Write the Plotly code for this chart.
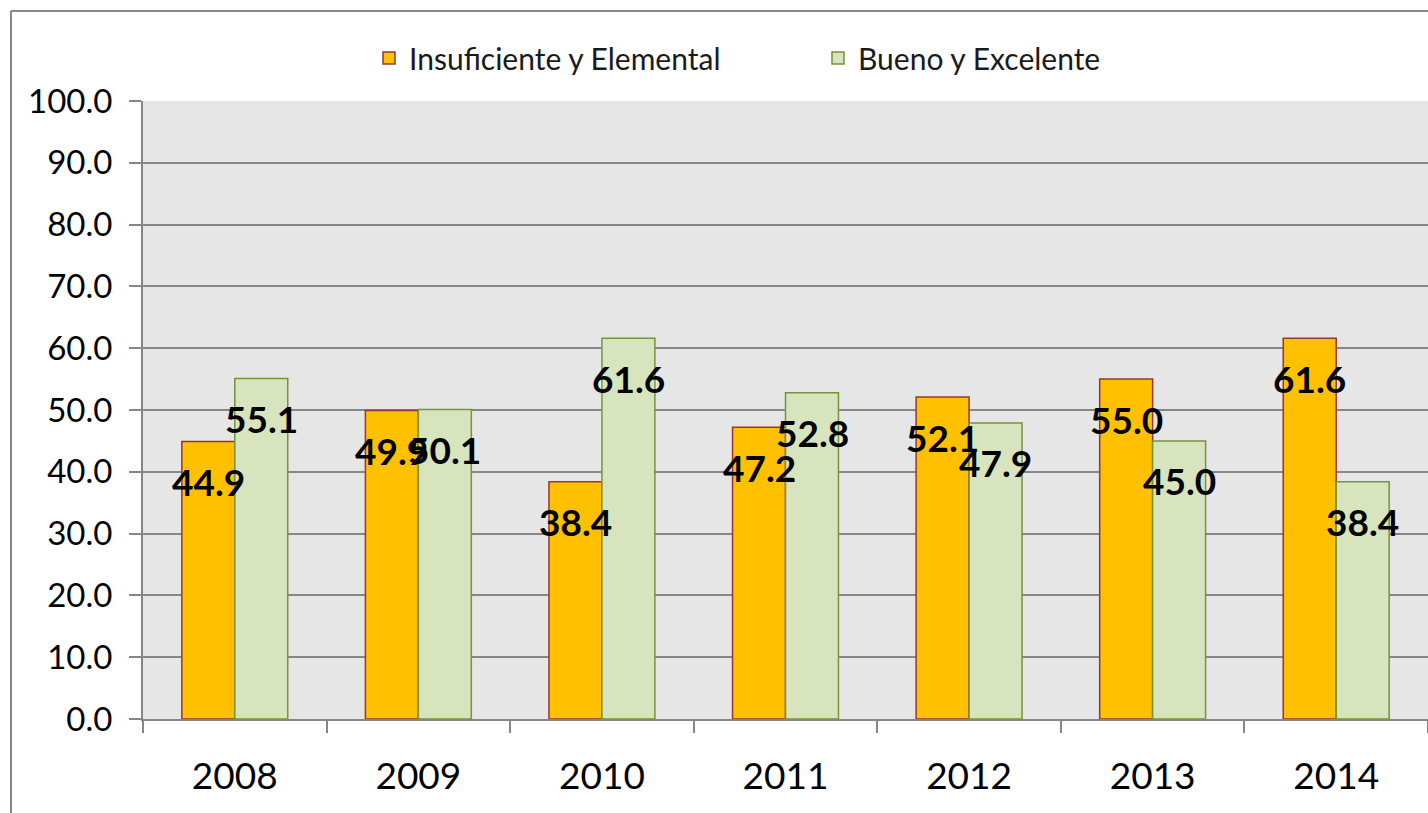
import plotly.graph_objects as go

years = ["2008", "2009", "2010", "2011", "2012", "2013", "2014"]
insuf = [44.9, 49.9, 38.4, 47.2, 52.1, 55.0, 61.6]
bueno = [55.1, 50.1, 61.6, 52.8, 47.9, 45.0, 38.4]
names = ["Insuficiente y Elemental", "Bueno y Excelente"]

W, H = 1428, 813
L, R, T, B = 143, 0, 101, 94
GRID = "#868686"
FONT = "Lato"

fig = go.Figure()
fig.add_trace(go.Bar(x=years, y=insuf, name=names[0],
                     marker=dict(color="#FFC000", line=dict(color="#953735", width=1.5))))
fig.add_trace(go.Bar(x=years, y=bueno, name=names[1],
                     marker=dict(color="#D7E4BD", line=dict(color="#77933C", width=1.5))))

ann = []
for vals, xs in ((insuf, -26.5), (bueno, 26.5)):
    for i, v in enumerate(vals):
        ann.append(dict(x=i, y=v, xref="x", yref="y", text=f"{v:.1f}", showarrow=False,
                        xshift=xs, yshift=-40, xanchor="center", yanchor="middle",
                        font=dict(family=FONT, size=37, color="black", weight="bold")))

pw = W - L - R
ph = H - T - B
def px(xp):
    return (xp - L) / pw
def py(yp):
    return (H - B - yp) / ph

shapes = [
    dict(type="line", xref="paper", yref="paper", x0=px(11), x1=px(11), y0=py(11), y1=py(H + 5),
         line=dict(color="#878787", width=2)),
    dict(type="line", xref="paper", yref="paper", x0=px(11), x1=px(W + 5), y0=py(11), y1=py(11),
         line=dict(color="#878787", width=2)),
]

fig.update_layout(
    width=W, height=H,
    margin=dict(l=L, r=R, t=T, b=B),
    paper_bgcolor="white", plot_bgcolor="#E6E6E6",
    barmode="group", bargap=0.423, bargroupgap=0,
    font=dict(family=FONT, color="black"),
    showlegend=True,
    legend=dict(orientation="h", x=px(818), y=py(58), xanchor="center", yanchor="middle",
                font=dict(family=FONT, size=30, color="#1a1a1a"), entrywidth=404,
                entrywidthmode="pixels", itemwidth=30, bgcolor="rgba(0,0,0,0)"),
    annotations=ann, shapes=shapes,
)
fig.update_xaxes(type="category", range=[-0.5, 6.5], showline=True, linecolor=GRID, linewidth=2,
                 ticks="outside", tickson="boundaries", ticklen=12, tickcolor=GRID, tickwidth=2,
                 showgrid=False, tickangle=0, tickfont=dict(family=FONT, size=37, color="black"),
                 ticklabelstandoff=24)
fig.update_yaxes(range=[0, 100], dtick=10, tickformat=".1f", showline=True, linecolor=GRID,
                 linewidth=2, ticks="outside", ticklen=12, tickcolor=GRID, tickwidth=2,
                 showgrid=True, gridcolor=GRID, gridwidth=2, zeroline=False,
                 tickfont=dict(family=FONT, size=33, color="black"), ticklabelstandoff=10)

fig.write_html("out.html", config={"displayModeBar": False},
               post_script="document.body.style.margin='0';document.body.style.overflow='hidden';")
